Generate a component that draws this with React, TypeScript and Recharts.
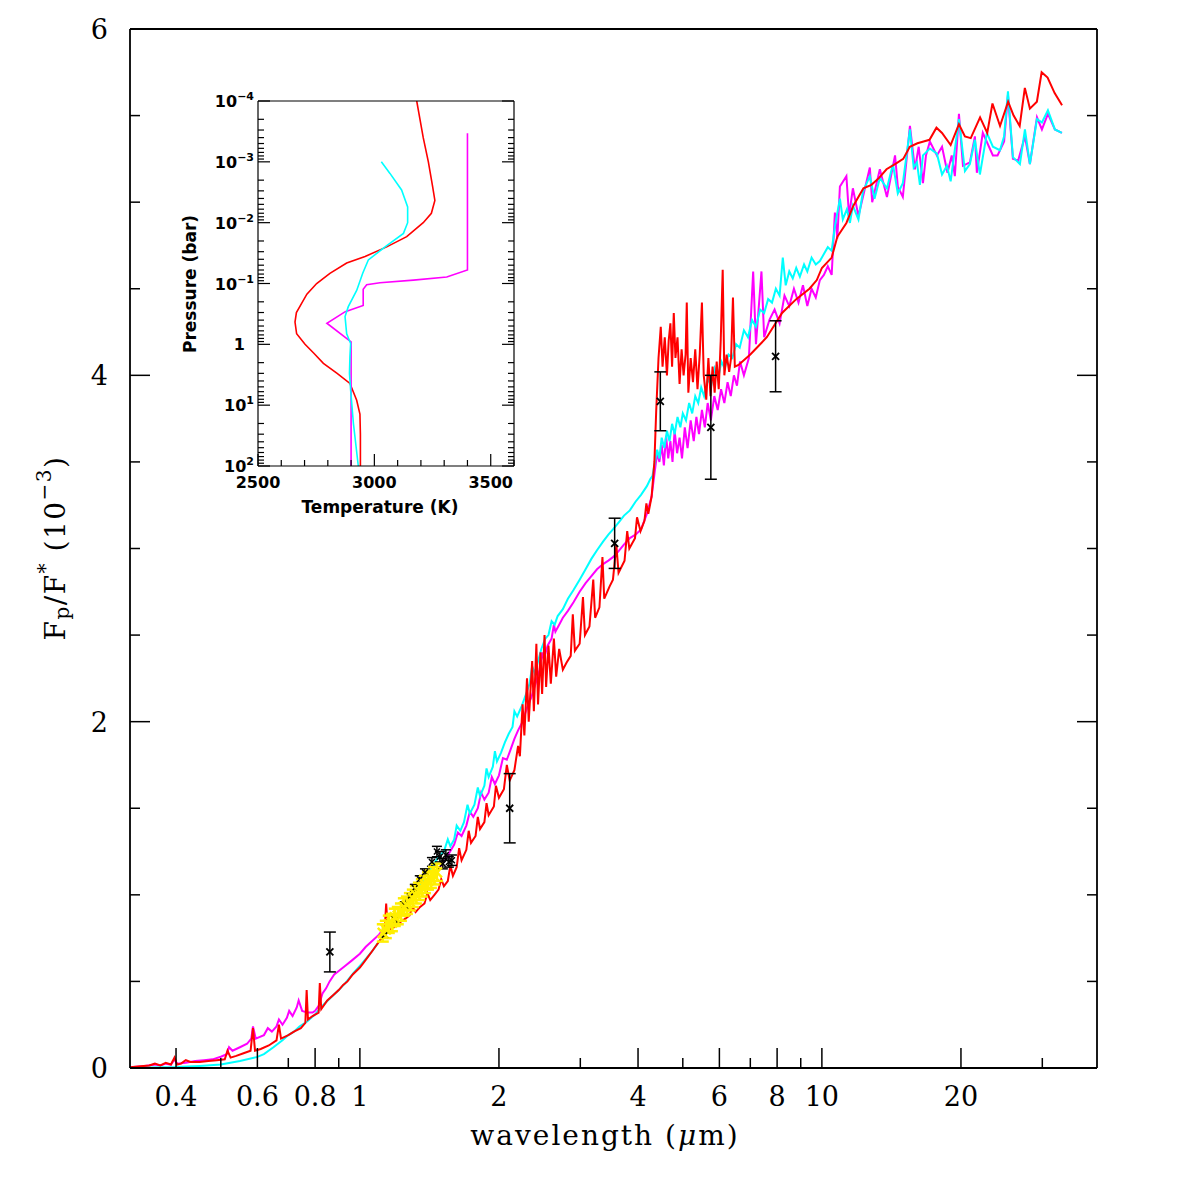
import React from "react";
import { ComposedChart, LineChart, Line, Scatter, XAxis, YAxis, ErrorBar } from "recharts";

const SERIF = "'DejaVu Serif', serif";
const INSET_FONT = "'DejaVu Sans', sans-serif";

// Planet/star flux ratio (units of 1e-3) against wavelength (μm): [wavelength, flux]
const redSpectrum: [number, number][] = [
  [0.318, 0.005], [0.335, 0.01], [0.35, 0.015], [0.36, 0.025], [0.37, 0.015], [0.38, 0.03], [0.39, 0.02], [0.397, 0.06],
  [0.402, 0.02], [0.41, 0.025], [0.42, 0.045], [0.43, 0.035], [0.45, 0.035], [0.47, 0.04], [0.49, 0.045], [0.51, 0.05],
  [0.517, 0.1], [0.525, 0.06], [0.54, 0.07], [0.56, 0.085], [0.58, 0.1], [0.587, 0.23], [0.593, 0.1], [0.61, 0.11],
  [0.635, 0.13], [0.66, 0.16], [0.668, 0.25], [0.675, 0.17], [0.7, 0.19], [0.72, 0.21], [0.745, 0.23], [0.762, 0.26],
  [0.767, 0.45], [0.772, 0.28], [0.79, 0.3], [0.814, 0.32], [0.819, 0.49], [0.825, 0.34], [0.85, 0.39], [0.875, 0.42],
  [0.9, 0.45], [0.92, 0.48], [0.94, 0.5], [0.965, 0.54], [1.0, 0.58], [1.02, 0.61], [1.04, 0.64], [1.06, 0.67],
  [1.08, 0.7], [1.1, 0.73], [1.13, 0.77], [1.14, 0.95], [1.15, 0.79], [1.18, 0.81], [1.22, 0.84], [1.25, 0.86],
  [1.28, 0.88], [1.3, 0.93], [1.32, 0.9], [1.35, 0.93], [1.38, 0.95], [1.4, 1.01], [1.42, 0.97], [1.45, 1.0],
  [1.48, 1.03], [1.5, 1.09], [1.52, 1.05], [1.55, 1.08], [1.57, 1.17], [1.59, 1.11], [1.62, 1.16], [1.64, 1.27],
  [1.66, 1.2], [1.7, 1.26], [1.72, 1.37], [1.74, 1.3], [1.78, 1.34], [1.8, 1.45], [1.82, 1.38], [1.86, 1.42],
  [1.88, 1.53], [1.9, 1.46], [1.95, 1.51], [1.97, 1.63], [2.0, 1.56], [2.05, 1.61], [2.08, 1.75], [2.11, 1.66],
  [2.16, 1.72], [2.2, 1.86], [2.22, 1.8], [2.25, 2.1], [2.27, 1.92], [2.3, 2.25], [2.32, 2.0], [2.36, 2.35],
  [2.38, 2.06], [2.41, 2.45], [2.43, 2.1], [2.46, 2.4], [2.48, 2.16], [2.51, 2.5], [2.53, 2.2], [2.56, 2.44],
  [2.59, 2.22], [2.63, 2.48], [2.66, 2.26], [2.7, 2.42], [2.75, 2.3], [2.8, 2.34], [2.86, 2.38], [2.89, 2.62],
  [2.92, 2.41], [2.99, 2.45], [3.04, 2.72], [3.07, 2.5], [3.14, 2.55], [3.2, 2.82], [3.23, 2.6], [3.3, 2.66],
  [3.35, 2.95], [3.38, 2.71], [3.47, 2.78], [3.53, 2.82], [3.59, 3.02], [3.63, 2.86], [3.74, 2.93], [3.79, 3.1],
  [3.83, 3.0], [3.94, 3.06], [3.98, 3.18], [4.05, 3.1], [4.13, 3.16], [4.17, 3.26], [4.21, 3.2], [4.28, 3.3],
  [4.34, 3.5], [4.38, 3.8], [4.43, 4.1], [4.48, 4.28], [4.52, 4.05], [4.57, 4.22], [4.62, 4.0], [4.66, 4.2],
  [4.7, 4.3], [4.74, 4.05], [4.78, 4.36], [4.82, 4.1], [4.87, 4.22], [4.92, 3.95], [4.97, 4.15], [5.02, 4.0],
  [5.07, 4.12], [5.1, 4.42], [5.14, 3.9], [5.2, 4.1], [5.26, 3.96], [5.32, 4.15], [5.38, 3.92], [5.44, 4.12],
  [5.5, 4.42], [5.55, 4.0], [5.62, 3.86], [5.68, 4.1], [5.74, 3.88], [5.8, 4.05], [5.86, 3.9], [5.92, 4.08],
  [5.98, 3.92], [6.04, 4.2], [6.1, 4.61], [6.15, 4.0], [6.22, 4.12], [6.3, 4.02], [6.36, 4.1], [6.42, 4.45],
  [6.48, 4.05], [6.6, 4.06], [7.0, 4.12], [7.6, 4.22], [8.2, 4.36], [8.8, 4.44], [9.4, 4.5], [9.75, 4.55],
  [10.0, 4.62], [10.5, 4.68], [10.8, 4.8], [11.3, 4.88], [11.7, 4.98], [12.3, 5.08], [12.8, 5.1], [13.3, 5.14],
  [13.8, 5.19], [14.4, 5.22], [15.0, 5.25], [15.5, 5.32], [16.1, 5.34], [16.6, 5.35], [17.1, 5.36], [17.7, 5.43],
  [18.2, 5.4], [19.0, 5.33], [19.8, 5.45], [20.4, 5.38], [21.0, 5.37], [22.0, 5.49], [22.8, 5.4], [23.4, 5.57],
  [24.3, 5.44], [25.3, 5.58], [26.0, 5.5], [26.8, 5.44], [27.5, 5.66], [28.2, 5.54], [29.2, 5.58], [29.9, 5.75],
  [30.8, 5.72], [31.9, 5.63], [33.1, 5.56],
];

const magentaSpectrum: [number, number][] = [
  [0.318, 0.005], [0.34, 0.01], [0.36, 0.02], [0.37, 0.015], [0.38, 0.025], [0.39, 0.02], [0.397, 0.05], [0.402, 0.025],
  [0.42, 0.03], [0.44, 0.04], [0.46, 0.045], [0.48, 0.05], [0.5, 0.065], [0.515, 0.08], [0.521, 0.12], [0.53, 0.1],
  [0.55, 0.12], [0.57, 0.14], [0.582, 0.17], [0.587, 0.24], [0.595, 0.17], [0.62, 0.19], [0.632, 0.23], [0.645, 0.21],
  [0.66, 0.24], [0.668, 0.28], [0.68, 0.25], [0.695, 0.29], [0.703, 0.33], [0.715, 0.3], [0.73, 0.35], [0.737, 0.39],
  [0.75, 0.33], [0.77, 0.32], [0.79, 0.32], [0.8, 0.33], [0.815, 0.36], [0.83, 0.43], [0.845, 0.46], [0.86, 0.5],
  [0.88, 0.54], [0.9, 0.56], [0.93, 0.59], [0.96, 0.62], [1.0, 0.66], [1.03, 0.7], [1.06, 0.73], [1.1, 0.77],
  [1.13, 0.81], [1.16, 0.84], [1.2, 0.88], [1.24, 0.92], [1.28, 0.96], [1.32, 1.0], [1.36, 1.05], [1.4, 1.09],
  [1.44, 1.12], [1.48, 1.15], [1.52, 1.19], [1.56, 1.24], [1.6, 1.29], [1.63, 1.36], [1.66, 1.34], [1.7, 1.4],
  [1.73, 1.48], [1.76, 1.45], [1.8, 1.5], [1.83, 1.59], [1.86, 1.55], [1.9, 1.59], [1.93, 1.68], [1.96, 1.64],
  [2.0, 1.69], [2.04, 1.79], [2.08, 1.78], [2.12, 1.84], [2.16, 1.9], [2.2, 1.95], [2.25, 2.0], [2.3, 2.08],
  [2.35, 2.14], [2.4, 2.22], [2.45, 2.3], [2.48, 2.4], [2.5, 2.36], [2.55, 2.44], [2.6, 2.48], [2.63, 2.56],
  [2.65, 2.52], [2.7, 2.56], [2.75, 2.6], [2.82, 2.64], [2.9, 2.69], [2.99, 2.75], [3.08, 2.8], [3.17, 2.84],
  [3.26, 2.88], [3.36, 2.91], [3.45, 2.93], [3.53, 2.95], [3.62, 2.98], [3.72, 3.02], [3.84, 3.06], [3.95, 3.08],
  [4.06, 3.11], [4.18, 3.2], [4.28, 3.3], [4.35, 3.45], [4.4, 3.55], [4.45, 3.5], [4.5, 3.6], [4.55, 3.48],
  [4.6, 3.65], [4.65, 3.52], [4.7, 3.62], [4.75, 3.5], [4.8, 3.68], [4.86, 3.55], [4.92, 3.64], [4.98, 3.52],
  [5.05, 3.7], [5.12, 3.58], [5.2, 3.74], [5.28, 3.62], [5.35, 3.76], [5.42, 3.66], [5.5, 3.8], [5.58, 3.7],
  [5.66, 3.84], [5.75, 3.74], [5.85, 3.88], [5.95, 3.8], [6.05, 3.92], [6.15, 3.84], [6.25, 3.96], [6.35, 3.88],
  [6.45, 4.0], [6.55, 3.94], [6.65, 4.08], [6.78, 4.0], [6.95, 4.1], [7.1, 4.6], [7.2, 4.18], [7.4, 4.6],
  [7.5, 4.22], [7.7, 4.32], [7.9, 4.38], [8.1, 4.3], [8.3, 4.46], [8.5, 4.4], [8.7, 4.5], [8.9, 4.42],
  [9.1, 4.52], [9.3, 4.4], [9.5, 4.5], [9.7, 4.45], [9.9, 4.55], [10.1, 4.58], [10.3, 4.63], [10.5, 4.58],
  [10.67, 4.94], [10.8, 4.79], [10.94, 5.09], [11.3, 5.15], [11.45, 4.92], [11.67, 5.08], [12.0, 4.92], [12.7, 5.2],
  [12.85, 5.0], [13.35, 5.19], [13.83, 5.03], [14.4, 5.27], [14.6, 5.09], [14.97, 5.03], [15.51, 5.44], [15.9, 5.19],
  [16.2, 5.32], [16.55, 5.11], [16.8, 5.27], [17.13, 5.35], [17.74, 5.27], [18.2, 5.32], [18.7, 5.17], [19.1, 5.27],
  [19.4, 5.15], [19.8, 5.51], [20.2, 5.21], [20.91, 5.23], [21.44, 5.38], [21.65, 5.17], [22.3, 5.4], [23.45, 5.27],
  [24.0, 5.27], [24.8, 5.35], [25.28, 5.62], [25.91, 5.25], [26.6, 5.24], [27.51, 5.38], [28.2, 5.22], [29.21, 5.49],
  [29.94, 5.42], [30.85, 5.51], [31.94, 5.42], [33.08, 5.4],
];

const cyanSpectrum: [number, number][] = [
  [0.318, 0.0], [0.35, 0.003], [0.4, 0.006], [0.45, 0.012], [0.5, 0.02], [0.55, 0.04], [0.6, 0.064], [0.62, 0.08],
  [0.65, 0.12], [0.68, 0.16], [0.7, 0.19], [0.72, 0.21], [0.74, 0.24], [0.77, 0.27], [0.8, 0.31], [0.83, 0.36],
  [0.86, 0.4], [0.9, 0.45], [0.93, 0.49], [0.97, 0.55], [1.0, 0.59], [1.03, 0.63], [1.06, 0.67], [1.1, 0.73],
  [1.13, 0.77], [1.16, 0.81], [1.2, 0.86], [1.24, 0.91], [1.28, 0.96], [1.32, 1.01], [1.36, 1.07], [1.4, 1.12],
  [1.44, 1.17], [1.48, 1.22], [1.52, 1.25], [1.55, 1.32], [1.57, 1.28], [1.6, 1.32], [1.62, 1.4], [1.65, 1.37],
  [1.68, 1.42], [1.71, 1.52], [1.73, 1.47], [1.77, 1.52], [1.8, 1.62], [1.82, 1.57], [1.86, 1.63], [1.88, 1.73],
  [1.9, 1.68], [1.94, 1.74], [1.96, 1.83], [1.98, 1.77], [2.02, 1.82], [2.06, 1.88], [2.1, 1.93], [2.14, 1.97],
  [2.16, 2.06], [2.19, 2.03], [2.24, 2.09], [2.29, 2.16], [2.33, 2.22], [2.36, 2.32], [2.39, 2.28], [2.42, 2.33],
  [2.47, 2.42], [2.52, 2.48], [2.56, 2.5], [2.6, 2.58], [2.64, 2.56], [2.68, 2.61], [2.75, 2.65], [2.82, 2.71],
  [2.9, 2.76], [2.99, 2.82], [3.08, 2.88], [3.17, 2.94], [3.26, 2.99], [3.36, 3.04], [3.45, 3.08], [3.53, 3.11],
  [3.63, 3.15], [3.73, 3.19], [3.84, 3.22], [3.95, 3.27], [4.06, 3.31], [4.18, 3.36], [4.25, 3.4], [4.3, 3.42],
  [4.35, 3.5], [4.4, 3.57], [4.45, 3.52], [4.5, 3.64], [4.56, 3.58], [4.62, 3.68], [4.68, 3.62], [4.74, 3.72],
  [4.8, 3.66], [4.87, 3.76], [4.94, 3.7], [5.0, 3.78], [5.08, 3.74], [5.16, 3.84], [5.24, 3.78], [5.32, 3.88],
  [5.4, 3.84], [5.48, 3.93], [5.56, 3.88], [5.66, 3.98], [5.76, 3.94], [5.86, 4.04], [5.96, 3.98], [6.06, 4.08],
  [6.16, 4.04], [6.28, 4.12], [6.4, 4.1], [6.52, 4.18], [6.64, 4.16], [6.78, 4.26], [6.92, 4.22], [7.06, 4.32],
  [7.2, 4.28], [7.35, 4.38], [7.5, 4.36], [7.65, 4.44], [7.8, 4.42], [7.95, 4.5], [8.1, 4.46], [8.23, 4.68],
  [8.35, 4.52], [8.5, 4.6], [8.65, 4.56], [8.8, 4.62], [8.96, 4.57], [9.15, 4.64], [9.3, 4.6], [9.5, 4.68],
  [9.7, 4.64], [9.9, 4.66], [10.1, 4.7], [10.3, 4.74], [10.5, 4.72], [10.67, 4.86], [10.94, 5.02], [11.1, 4.9],
  [11.33, 4.96], [11.5, 4.88], [11.67, 4.98], [12.0, 4.9], [12.27, 5.06], [12.7, 5.15], [13.0, 5.02], [13.35, 5.14],
  [13.83, 5.08], [14.25, 5.22], [14.6, 5.05], [14.97, 5.11], [15.51, 5.42], [15.8, 5.2], [16.06, 5.23], [16.3, 5.1],
  [16.55, 5.27], [17.13, 5.31], [17.74, 5.28], [18.2, 5.16], [18.65, 5.21], [19.0, 5.12], [19.21, 5.22], [19.8, 5.48],
  [20.4, 5.18], [20.91, 5.22], [21.44, 5.36], [21.98, 5.16], [22.76, 5.4], [23.45, 5.32], [24.29, 5.3], [24.8, 5.38],
  [25.28, 5.64], [25.91, 5.26], [26.83, 5.22], [27.51, 5.42], [28.2, 5.22], [29.21, 5.48], [29.94, 5.46], [30.85, 5.53],
  [31.94, 5.42], [33.08, 5.4],
];

// Photometric eclipse depths: [wavelength, flux, 1σ error]
const photometry: [number, number, number][] = [
  [0.861, 0.67, 0.115], [2.11, 1.5, 0.2], [3.56, 3.03, 0.145], [4.47, 3.85, 0.17], [5.75, 3.7, 0.3], [7.94, 4.11, 0.205],
];

const spectroBlack: [number, number, number][] = [
  [1.133, 0.77, 0.02], [1.19, 0.86, 0.02], [1.252, 0.94, 0.02], [1.283, 0.99, 0.02], [1.315, 1.04, 0.02],
  [1.348, 1.09, 0.02], [1.383, 1.13, 0.02], [1.432, 1.19, 0.025], [1.468, 1.25, 0.03], [1.49, 1.22, 0.03],
  [1.512, 1.18, 0.03], [1.535, 1.23, 0.03], [1.558, 1.19, 0.03], [1.582, 1.2, 0.03],
];

const spectroYellow: [number, number, number][] = [
  [1.121, 0.78, 0.05], [1.138, 0.8, 0.05], [1.155, 0.83, 0.05], [1.173, 0.84, 0.05], [1.19, 0.87, 0.05],
  [1.208, 0.88, 0.05], [1.227, 0.9, 0.05], [1.245, 0.93, 0.05], [1.264, 0.94, 0.05], [1.283, 0.96, 0.05],
  [1.302, 0.98, 0.05], [1.322, 1.0, 0.05], [1.342, 1.02, 0.05], [1.362, 1.04, 0.05], [1.383, 1.06, 0.05],
  [1.404, 1.08, 0.05], [1.425, 1.09, 0.05], [1.446, 1.11, 0.05], [1.468, 1.13, 0.05],
];

// Temperature–pressure profiles: [T (K), P (bar)]
const redProfile: [number, number][] = [
  [3182, 1e-4], [3210, 4e-4], [3232, 1e-3], [3250, 2.5e-3], [3260, 4.3e-3], [3245, 7e-3], [3210, 1e-2], [3139, 1.7e-2],
  [3053, 2.5e-2], [2960, 3.6e-2], [2881, 4.6e-2], [2809, 6.8e-2], [2752, 0.1], [2710, 0.15], [2688, 0.21], [2665, 0.3],
  [2659, 0.43], [2666, 0.67], [2702, 1], [2740, 1.4], [2781, 2.05], [2840, 3], [2895, 4.4], [2924, 8.3], [2938, 14],
  [2940, 30], [2940, 100],
];
const cyanProfile: [number, number][] = [
  [3030, 1e-3], [3067, 1.55e-3], [3117, 2.9e-3], [3143, 5.5e-3], [3143, 1e-2], [3125, 1.5e-2], [3046, 2.5e-2],
  [2974, 4.1e-2], [2950, 6.8e-2], [2924, 0.13], [2888, 0.24], [2874, 0.35], [2881, 0.67], [2898, 0.97], [2895, 1.6],
  [2893, 3], [2898, 5.6], [2910, 20], [2931, 100],
];
const magentaProfile: [number, number][] = [
  [3400, 3.4e-4], [3400, 6.0e-2], [3311, 7.8e-2], [3168, 8.8e-2], [3024, 9.7e-2], [2967, 0.105], [2952, 0.124],
  [2952, 0.23], [2875, 0.29], [2796, 0.45], [2900, 0.91], [2900, 100],
];

// Axis ticks
const waveTicks = [0.4, 0.5, 0.6, 0.7, 0.8, 0.9, 1, 2, 3, 4, 5, 6, 7, 8, 9, 10, 20, 30];
const waveTickLabels: Record<string, string> = {
  "0.4": "0.4", "0.6": "0.6", "0.8": "0.8", "1": "1", "2": "2", "4": "4", "6": "6", "8": "8", "10": "10", "20": "20",
};
const fluxTicks = [0, 0.5, 1, 1.5, 2, 2.5, 3, 3.5, 4, 4.5, 5, 5.5, 6];
const fluxTickLabels: Record<string, string> = { "0": "0", "2": "2", "4": "4", "6": "6" };
const tempTicks = [2500, 2600, 2700, 2800, 2900, 3000, 3100, 3200, 3300, 3400, 3500, 3600];
const tempTickLabels: Record<string, string> = { "2500": "2500", "3000": "3000", "3500": "3500" };
const pressureExponents = [-4, -3, -2, -1, 0, 1, 2];
const pressureMantissas = [1, 2, 3, 4, 5, 6, 7, 8, 9];

const pressureTicks: number[] = [];
pressureExponents.forEach((e) => {
  pressureMantissas.forEach((m) => {
    if (e === 2 && m > 1) return;
    pressureTicks.push(Number((m * Math.pow(10, e)).toPrecision(6)));
  });
});

const toSpec = (arr: [number, number][]) => arr.map(([w, f]) => ({ w, f }));
const toErr = (arr: [number, number, number][]) => arr.map(([w, f, e]) => ({ w, f, e }));
const toProfile = (arr: [number, number][]) => arr.map(([T, P]) => ({ T, P }));

const RED = "#ff0000";
const MAGENTA = "#ff00ff";
const CYAN = "#00ffff";

// Main panel geometry (svg coordinates)
const MAIN_W = 1180;
const MAIN_H = 1180;
const PLOT_LEFT = 122;
const PLOT_TOP = 21;
const PLOT_RIGHT = 1089;
const PLOT_BOTTOM = 1060;

function WaveTick(props: any) {
  const { x, payload } = props;
  const y = PLOT_BOTTOM;
  const label = waveTickLabels[String(payload.value)];
  const len = label ? 20 : 10;
  return (
    <g>
      <line x1={x} x2={x} y1={y} y2={y - len} stroke="#000" strokeWidth={1.5} />
      {label && (
        <text x={x} y={y + 38} textAnchor="middle" fontFamily={SERIF} fontSize={27} fill="#000">
          {label}
        </text>
      )}
    </g>
  );
}

function FluxTickLeft(props: any) {
  const { y, payload } = props;
  const x = PLOT_LEFT;
  const label = fluxTickLabels[String(payload.value)];
  const len = label ? 20 : 10;
  return (
    <g>
      <line x1={x} x2={x + len} y1={y} y2={y} stroke="#000" strokeWidth={1.5} />
      {label && (
        <text x={x - 22} y={y + 10} textAnchor="end" fontFamily={SERIF} fontSize={27} fill="#000">
          {label}
        </text>
      )}
    </g>
  );
}

function FluxTickRight(props: any) {
  const { y, payload } = props;
  const x = PLOT_RIGHT;
  const label = fluxTickLabels[String(payload.value)];
  const len = label ? 20 : 10;
  return <line x1={x} x2={x - len} y1={y} y2={y} stroke="#000" strokeWidth={1.5} />;
}

// Inset geometry (svg coordinates of the inset chart)
const IN_LEFT = 100;
const IN_TOP = 33;
const IN_RIGHT = 356;
const IN_BOTTOM = 398;

function TempTick(props: any) {
  const { x, payload } = props;
  const y = IN_BOTTOM;
  const label = tempTickLabels[String(payload.value)];
  const len = label ? 12 : 6;
  return (
    <g>
      <line x1={x} x2={x} y1={y} y2={y - len} stroke="#000" strokeWidth={1.2} />
      {label && (
        <text x={x} y={y + 22} textAnchor="middle" fontFamily={INSET_FONT} fontWeight="bold" fontSize={16} fill="#000">
          {label}
        </text>
      )}
    </g>
  );
}

function pressureInfo(v: number) {
  const e = Math.floor(Math.log10(v) + 1e-9);
  const major = Math.abs(v / Math.pow(10, e) - 1) < 1e-6;
  return { e, major };
}

function PressureTickLeft(props: any) {
  const { y, payload } = props;
  const x = IN_LEFT;
  const { e, major } = pressureInfo(payload.value);
  const len = major ? 12 : 6;
  let label: React.ReactNode = null;
  if (major) {
    label =
      e === 0 ? (
        <text x={x - 13} y={y + 6} textAnchor="end" fontFamily={INSET_FONT} fontWeight="bold" fontSize={16} fill="#000">
          1
        </text>
      ) : (
        <text x={x - 4} y={y + 6} textAnchor="end" fontFamily={INSET_FONT} fontWeight="bold" fontSize={16} fill="#000">
          10
          <tspan dy={-7} fontSize={11}>
            {e < 0 ? `\u2212${-e}` : String(e)}
          </tspan>
        </text>
      );
  }
  return (
    <g>
      <line x1={x} x2={x + len} y1={y} y2={y} stroke="#000" strokeWidth={1.2} />
      {label}
    </g>
  );
}

function PressureTickRight(props: any) {
  const { y, payload } = props;
  const x = IN_RIGHT;
  const { major } = pressureInfo(payload.value);
  const len = major ? 12 : 6;
  return <line x1={x} x2={x - len} y1={y} y2={y} stroke="#000" strokeWidth={1.2} />;
}

function makeCross(size: number, color: string, sw: number) {
  return (props: any) => {
    const { cx, cy } = props;
    if (cx == null || cy == null) return <g />;
    return (
      <g>
        <line x1={cx - size} y1={cy - size} x2={cx + size} y2={cy + size} stroke={color} strokeWidth={sw} />
        <line x1={cx - size} y1={cy + size} x2={cx + size} y2={cy - size} stroke={color} strokeWidth={sw} />
      </g>
    );
  };
}

const bigCross = makeCross(3.5, "#000", 1.8);
const smallCross = makeCross(3, "#000", 1.5);
const yellowCross = makeCross(5, "#ffee00", 2.5);

const frame = { stroke: "#000", strokeWidth: 1.8 };
const insetFrame = { stroke: "#000", strokeWidth: 1.2 };

export default function App() {
  return (
    <div style={{ position: "relative", width: MAIN_W, height: MAIN_H, background: "#fff" }}>
      <ComposedChart
        width={MAIN_W}
        height={MAIN_H}
        margin={{ top: PLOT_TOP - 4, right: MAIN_W - PLOT_RIGHT - 10, bottom: MAIN_H - PLOT_BOTTOM - 40, left: PLOT_LEFT - 40 }}
      >
        <XAxis
          dataKey="w"
          type="number"
          scale="log"
          domain={[0.318, 39.4]}
          allowDataOverflow
          ticks={waveTicks}
          interval={0}
          tick={<WaveTick />}
          tickLine={false}
          height={40}
          axisLine={frame}
        />
        <XAxis
          xAxisId="top"
          orientation="top"
          type="number"
          scale="log"
          domain={[0.318, 39.4]}
          allowDataOverflow
          tick={false}
          tickLine={false}
          height={4}
          axisLine={frame}
        />
        <YAxis
          dataKey="f"
          type="number"
          domain={[0, 6]}
          allowDataOverflow
          ticks={fluxTicks}
          interval={0}
          tick={<FluxTickLeft />}
          tickLine={false}
          width={40}
          axisLine={frame}
        />
        <YAxis
          yAxisId="right"
          orientation="right"
          type="number"
          domain={[0, 6]}
          allowDataOverflow
          ticks={fluxTicks}
          interval={0}
          tick={<FluxTickRight />}
          tickLine={false}
          width={10}
          axisLine={frame}
        />
        <Line data={toSpec(magentaSpectrum)} dataKey="f" stroke={MAGENTA} strokeWidth={2} dot={false} isAnimationActive={false} />
        <Line data={toSpec(cyanSpectrum)} dataKey="f" stroke={CYAN} strokeWidth={2} dot={false} isAnimationActive={false} />
        <Line data={toSpec(redSpectrum)} dataKey="f" stroke={RED} strokeWidth={2} dot={false} isAnimationActive={false} />
        <Scatter data={toErr(spectroBlack)} dataKey="f" shape={smallCross} isAnimationActive={false}>
          <ErrorBar dataKey="e" direction="y" width={5} stroke="#000" strokeWidth={1.5} />
        </Scatter>
        <Scatter data={toErr(spectroYellow)} dataKey="f" shape={yellowCross} isAnimationActive={false}>
          <ErrorBar dataKey="e" direction="y" width={6} stroke="#ffee00" strokeWidth={2.5} />
        </Scatter>
        <Scatter data={toErr(photometry)} dataKey="f" shape={bigCross} isAnimationActive={false}>
          <ErrorBar dataKey="e" direction="y" width={6} stroke="#000" strokeWidth={1.5} />
        </Scatter>
      </ComposedChart>

      <div style={{ position: "absolute", left: 150, top: 60 }}>
        <LineChart
          width={420}
          height={480}
          margin={{ top: IN_TOP - 4, right: 420 - IN_RIGHT - 10, bottom: 480 - IN_BOTTOM - 30, left: IN_LEFT - 40 }}
        >
          <XAxis
            dataKey="T"
            type="number"
            domain={[2500, 3600]}
            allowDataOverflow
            ticks={tempTicks}
            interval={0}
            tick={<TempTick />}
            tickLine={false}
            height={30}
            axisLine={insetFrame}
          />
          <XAxis
            xAxisId="top"
            orientation="top"
            type="number"
            domain={[2500, 3600]}
            allowDataOverflow
            tick={false}
            tickLine={false}
            height={4}
            axisLine={insetFrame}
          />
          <YAxis
            dataKey="P"
            type="number"
            scale="log"
            domain={[1e-4, 100]}
            reversed
            allowDataOverflow
            ticks={pressureTicks}
            interval={0}
            tick={<PressureTickLeft />}
            tickLine={false}
            width={40}
            axisLine={insetFrame}
          />
          <YAxis
            yAxisId="right"
            orientation="right"
            type="number"
            scale="log"
            domain={[1e-4, 100]}
            reversed
            allowDataOverflow
            ticks={pressureTicks}
            interval={0}
            tick={<PressureTickRight />}
            tickLine={false}
            width={10}
            axisLine={insetFrame}
          />
          <Line data={toProfile(redProfile)} dataKey="P" stroke={RED} strokeWidth={1.6} dot={false} isAnimationActive={false} />
          <Line data={toProfile(magentaProfile)} dataKey="P" stroke={MAGENTA} strokeWidth={1.6} dot={false} isAnimationActive={false} />
          <Line data={toProfile(cyanProfile)} dataKey="P" stroke={CYAN} strokeWidth={1.6} dot={false} isAnimationActive={false} />
        </LineChart>
      </div>

      <svg width={MAIN_W} height={MAIN_H} style={{ position: "absolute", left: 0, top: 0, pointerEvents: "none" }}>
        <text x={597} y={1137} textAnchor="middle" fontFamily={SERIF} fontSize={28} fill="#000" letterSpacing={2}>
          wavelength (<tspan fontStyle="italic">{"\u03bc"}</tspan>m)
        </text>
        <text
          x={47}
          y={540}
          transform="rotate(-90 47 540)"
          textAnchor="middle"
          dominantBaseline="central"
          fontFamily={SERIF}
          fontSize={28}
          fill="#000"
          letterSpacing={1.5}
        >
          F<tspan dy={7} fontSize={20}>p</tspan>
          <tspan dy={-7}>/F</tspan>
          <tspan dy={-10} fontSize={20}>*</tspan>
          <tspan dy={10}> (10</tspan>
          <tspan dy={-11} fontSize={20}>{"\u22123"}</tspan>
          <tspan dy={11}>)</tspan>
        </text>
        <text x={372} y={505} textAnchor="middle" fontFamily={INSET_FONT} fontWeight="bold" fontSize={17} fill="#000">
          Temperature (K)
        </text>
        <text
          x={182}
          y={276}
          transform="rotate(-90 182 276)"
          textAnchor="middle"
          dominantBaseline="central"
          fontFamily={INSET_FONT}
          fontWeight="bold"
          fontSize={17}
          fill="#000"
        >
          Pressure (bar)
        </text>
      </svg>
    </div>
  );
}
